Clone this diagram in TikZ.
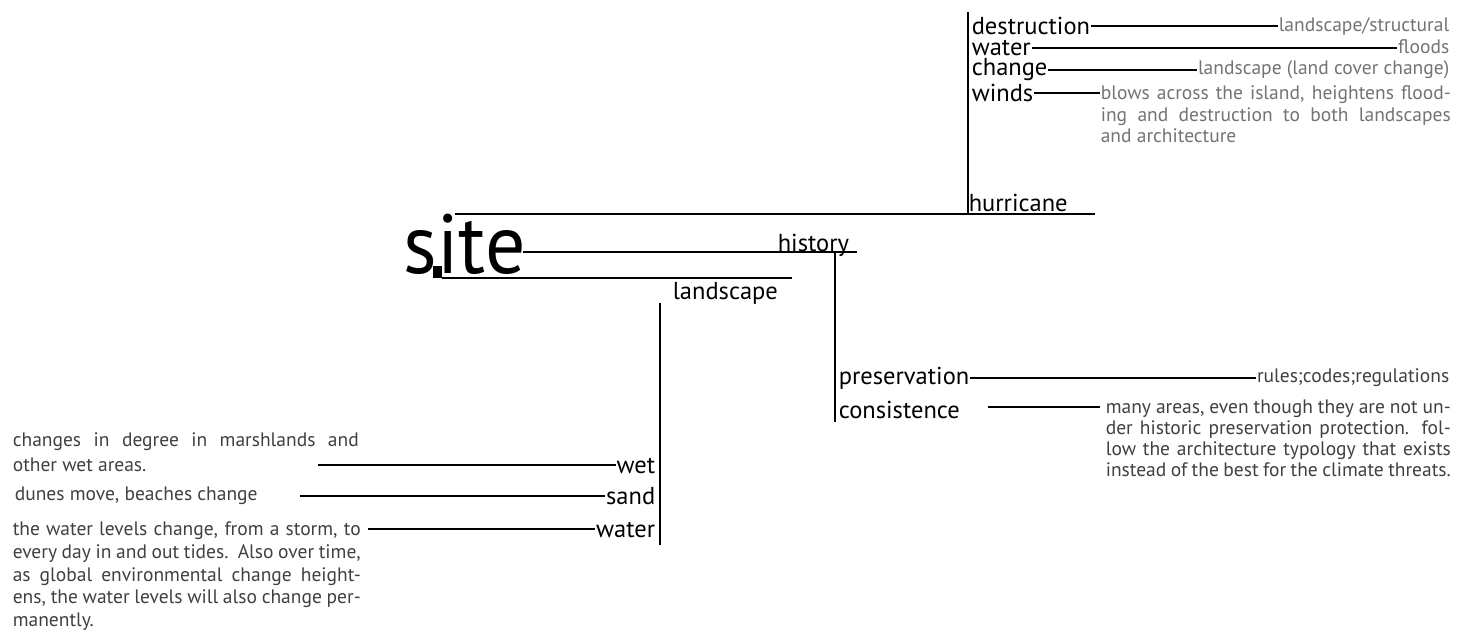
\documentclass[tikz,border=0pt]{standalone}
\usepackage{fontspec}
\setmainfont{PT Sans}
\newfontfamily\sitefont[FakeStretch=0.95]{PT Sans}
\begin{document}
\begin{tikzpicture}[x=1pt, y=-1pt, line width=1.6pt,
    main/.style = {inner sep=0pt, font=\fontsize{24.5}{27}\selectfont},
    note/.style = {inner sep=0pt, font=\fontsize{19.5}{23}\selectfont, text=black!75},
    pale/.style = {note, text=black!55},
    block/.style = {note, align=justify}]
  \useasboundingbox (0,0) rectangle (1470,642);
  % site and its three branches
  \node[inner sep=0pt, anchor=base west, font=\sitefont\fontsize{84}{90}\selectfont] (site) at (403,273) {site};
  \fill (433,266) rectangle (442,278);
  \coordinate (hurtop) at (455,214);
  \coordinate (histop) at (523,252);
  \coordinate (lantop) at (442,278);
  \node[main, anchor=base west] (hurricane) at (968,211) {hurricane};
  \node[main, anchor=base west] (history) at (777,251) {history};
  \node[main, anchor=west] (landscape) at (672,293) {landscape};
  \draw (hurtop) -- (1095,214) coordinate (hurend);
  \draw (histop) -- (857,252) coordinate (hisend);
  \draw (lantop) -- (792,278) coordinate (lanend);
  % hurricane
  \coordinate (hurup) at (968,12);
  \draw (hurup) -- (968,214);
  \node[main, anchor=west] (destruction) at (971,26) {destruction};
  \node[main, anchor=west] (water1) at (971,48) {water};
  \node[main, anchor=west] (change) at (971,70) {change};
  \node[main, anchor=west] (winds) at (971,93) {winds};
  \node[pale, anchor=east] (n1) at (1450,27) {landscape/structural};
  \node[pale, anchor=east] (n2) at (1450,47) {floods};
  \node[pale, anchor=east] (n3) at (1450,70) {landscape (land cover change)};
  \node[block, pale, align=justify, anchor=north west, text width=350pt,
    font=\fontsize{19.5}{21.5}\selectfont] (n4) at (1100,85)
    {blows across the island, heightens flood-\linebreak ing and destruction to both landscapes\linebreak and architecture};
  \draw (destruction.east) -- (n1.west |- destruction.east);
  \draw (water1.east) -- (n2.west |- water1.east);
  \draw (change.east) -- (n3.west |- change.east);
  \draw (winds.east) -- (n4.west |- winds.east);
  % history
  \coordinate (hisdown) at (835,422);
  \draw (835,252) -- (hisdown);
  \node[main, anchor=west] (preservation) at (838,378) {preservation};
  \node[main, anchor=west] (consistence) at (838,410) {consistence};
  \node[note, anchor=east] (n5) at (1450,378) {rules;codes;regulations};
  \begin{scope}
    \clip (1090,395) rectangle (1460,477);
    \node[block, anchor=north west, text width=345pt,
      font=\fontsize{19.5}{21}\selectfont] (n6) at (1105,399)
      {many areas, even though they are not un\-der historic preservation protection. fol\-low the architecture typology that exists instead of the best for the climate threats.};
  \end{scope}
  \draw (preservation.east) -- (n5.west |- preservation.east);
  \draw (988,407) -- (1100,407) coordinate (conend);
  % landscape
  \coordinate (landown) at (660,545);
  \draw (660,303) -- (landown);
  \node[main, anchor=east] (wet) at (656,466) {wet};
  \node[main, anchor=east] (sand) at (656,496) {sand};
  \node[main, anchor=east] (water2) at (656,530) {water};
  \node[block, anchor=north west, text width=346pt,
    font=\fontsize{19.5}{25}\selectfont] (n7) at (12,432)
    {changes in degree in marshlands and other wet areas.};
  \node[note, anchor=west] (n8) at (14,496) {dunes move, beaches change};
  \node[block, anchor=north west, text width=348pt,
    font=\fontsize{19.5}{22.8}\selectfont] (n9) at (12,521)
    {the water levels change, from a storm, to every day in and out tides.\ \ Also over time, as global environmental change height\-ens, the water levels will also change per\-manently.};
  \coordinate (wetend) at (318,465);
  \coordinate (sandend) at (300,496);
  \coordinate (waterend) at (368,529);
  \draw (wetend) -- (wet.west |- wetend);
  \draw (sandend) -- (sand.west |- sandend);
  \draw (waterend) -- (water2.west |- waterend);
\end{tikzpicture}
\end{document}
